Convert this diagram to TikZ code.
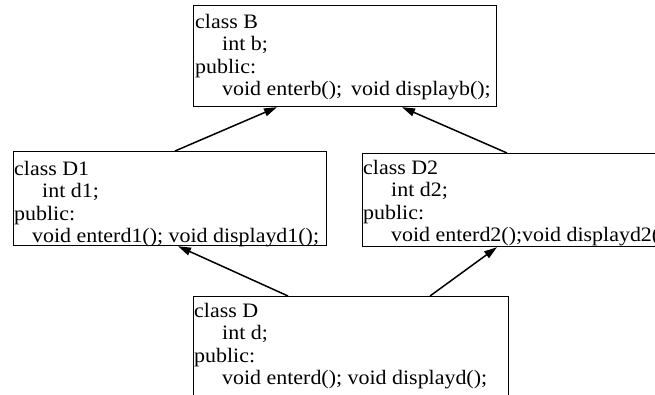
\documentclass[tikz,border=0pt]{standalone}
\usepackage{fontspec}
\setmainfont{Liberation Serif}[FakeStretch=1.07]
\usetikzlibrary{arrows.meta}
\begin{document}
\begin{tikzpicture}[x=1pt,y=-1pt,
  classbox/.style={draw, line width=1.2pt, inner sep=0pt, anchor=north west},
  classtext/.style={anchor=north west, inner sep=0pt, align=left,
    font=\fontsize{20.5}{22.3}\selectfont},
  inherit/.style={line width=1.5pt, -{Triangle[length=13pt,width=8pt]}}
]
\useasboundingbox (0,0) rectangle (655,394);
\clip (0,0) rectangle (655,394);
% boxes
\node[classbox, minimum width=303pt, minimum height=101pt] (B) at (193,5) {};
\node[classbox, minimum width=313pt, minimum height=94pt] (D1) at (13,151) {};
\node[classbox, minimum width=310pt, minimum height=93pt] (D2) at (362,153) {};
\node[classbox, minimum width=315pt, minimum height=110pt] (D) at (193,296) {};
% texts
\node[classtext] (Bt) at ([xshift=2pt,yshift=-9pt]B.north west)
  {class B\\\hspace*{27pt}int b;\\public:\\\hspace*{27pt}void enterb();\hspace{9pt}void displayb();};
\node[classtext] (D1t) at ([xshift=1pt,yshift=-10pt]D1.north west)
  {class D1\\\hspace*{28pt}int d1;\\public:\\\hspace*{18pt}void enterd1(); void displayd1();};
\node[classtext] (D2t) at ([xshift=1pt,yshift=-7pt]D2.north west)
  {class D2\\\hspace*{28pt}int d2;\\public:\\\hspace*{28pt}void enterd2();void displayd2();};
\node[classtext] (Dt) at ([xshift=1pt,yshift=-7pt]D.north west)
  {class D\\\hspace*{28pt}int d;\\public:\\\hspace*{28pt}void enterd(); void displayd();};
% inheritance arrows
\draw[inherit] ([xshift=162pt]D1.north west) -- ([xshift=84pt]B.south west);
\draw[inherit] ([xshift=145pt]D2.north west) -- ([xshift=209pt]B.south west);
\draw[inherit] ([xshift=95pt]D.north west) -- ([xshift=165pt]D1.south west);
\draw[inherit] ([xshift=237pt]D.north west) -- ([xshift=135pt]D2.south west);
\end{tikzpicture}
\end{document}
